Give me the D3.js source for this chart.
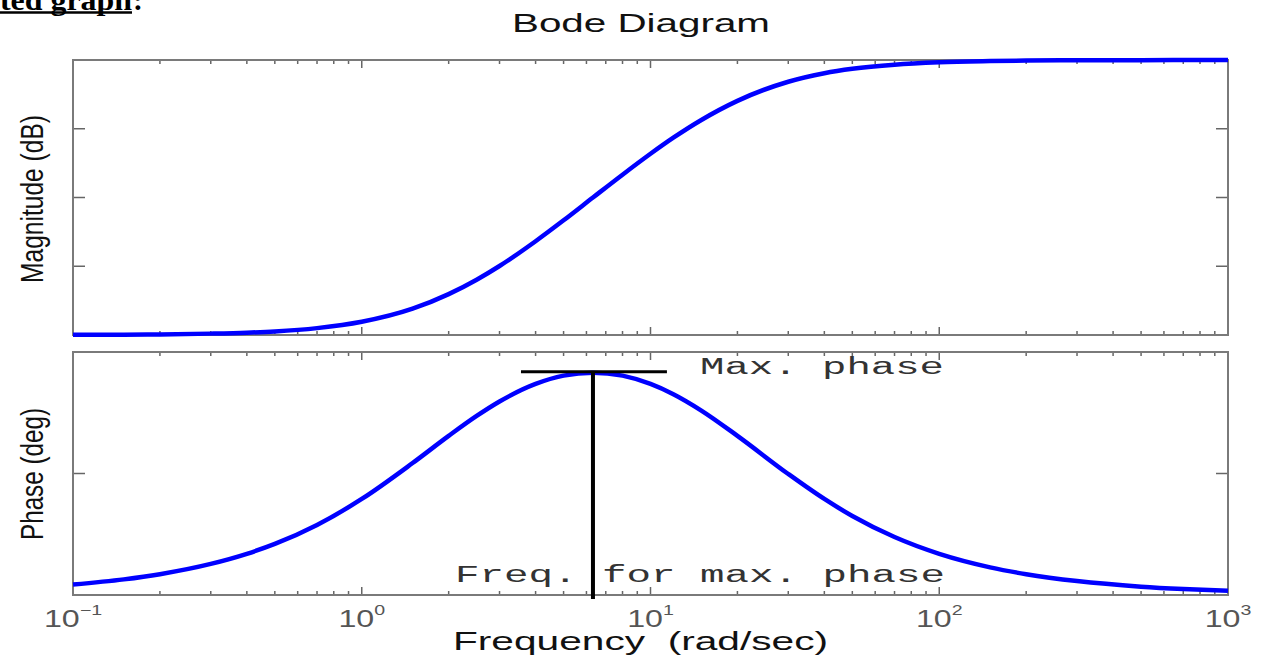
<!DOCTYPE html>
<html>
<head>
<meta charset="utf-8">
<script src="https://cdn.jsdelivr.net/npm/d3@7"></script>
<style>
  html, body { margin: 0; padding: 0; background: #fff; }
  svg { display: block; }
  text { white-space: pre; }
</style>
</head>
<body>
<svg id="chart" width="1270" height="664"></svg>
<script>
// ---- Data ----
const freq = [0.1, 0.15, 0.2, 0.3, 0.4, 0.5, 0.7, 1, 1.5, 2, 2.5, 3, 4, 5, 6.32, 8, 10, 12, 15, 20, 30, 40, 50, 70, 100, 150, 200, 300, 500, 700, 1000];
const magDb = [0.01, 0.02, 0.04, 0.10, 0.17, 0.26, 0.50, 0.96, 1.91, 2.97, 4.02, 5.02, 6.82, 8.34, 10.0, 11.66, 13.18, 14.35, 15.64, 17.03, 18.42, 19.04, 19.36, 19.66, 19.83, 19.92, 19.96, 19.98, 19.99, 20.0, 20.0];
const phaseDeg = [2.58, 3.86, 5.14, 7.67, 10.16, 12.61, 17.29, 23.71, 32.58, 39.29, 44.21, 47.78, 52.12, 54.16, 54.90, 54.16, 52.12, 49.58, 45.54, 39.29, 29.88, 23.71, 19.51, 14.31, 10.16, 6.83, 5.14, 3.43, 2.06, 1.48, 1.04];
const freqDomain = [0.1, 1000];
const magDomain = [0, 20];
const phaseDomain = [0, 60];
const magTicks = [5, 10, 15];
const phaseTicks = [30];
const decadeTicks = [0.1, 1, 10, 100, 1000];
const decadeExponents = ["\u22121", "0", "1", "2", "3"];
const peakFreq = 6.32;
const peakPhase = 54.9;
const peakBarFreq = [3.56, 11.4];
const peakStemBottom = -1;
const titleText = "Bode Diagram";
const xLabelText = "Frequency  (rad/sec)";
const magLabelText = "Magnitude (dB)";
const phaseLabelText = "Phase (deg)";
const maxPhaseText = "Max. phase";
const freqMaxText = "Freq. for max. phase";

// ---- Layout ----
const L = 73, R = 1228;
const top1 = 60, bot1 = 335;
const top2 = 352, bot2 = 595;
const svg = d3.select("#chart");
const sans = "'Liberation Sans', Arial, Helvetica, sans-serif";
const mono = "'Liberation Mono', 'Courier New', monospace";
const axisGray = "#7a7a7a";

const x = d3.scaleLog().domain(freqDomain).range([L, R]);
const yMag = d3.scaleLinear().domain(magDomain).range([bot1, top1]);
const yPh = d3.scaleLinear().domain(phaseDomain).range([bot2, top2]);

// Cropped heading at top-left
svg.append("text").attr("x", 0).attr("y", 10)
  .attr("textLength", 132).attr("lengthAdjust", "spacingAndGlyphs")
  .attr("font-family", "'Liberation Serif', 'Times New Roman', serif")
  .attr("font-weight", "bold").attr("font-size", 30).attr("fill", "#000")
  .text("ted graph");
svg.append("line").attr("x1", 0).attr("x2", 132).attr("y1", 12.5).attr("y2", 12.5)
  .attr("stroke", "#000").attr("stroke-width", 2.5);
svg.append("text").attr("x", 133).attr("y", 10)
  .attr("font-family", "'Liberation Serif', 'Times New Roman', serif")
  .attr("font-weight", "bold").attr("font-size", 30).attr("fill", "#000")
  .text(":");

// Title
svg.append("text").attr("x", 512).attr("y", 32)
  .attr("textLength", 258).attr("lengthAdjust", "spacingAndGlyphs")
  .attr("font-family", sans).attr("font-size", 26).attr("fill", "#111")
  .text(titleText);

const allTicks = x.ticks();
function isDecade(v) { return Math.abs(Math.log10(v) - Math.round(Math.log10(v))) < 1e-6; }

function panel(y, top, bot, yTicks) {
  const g = svg.append("g");
  const tickStroke = "#666";
  allTicks.forEach(v => {
    const len = isDecade(v) ? 8 : 4;
    const xp = x(v);
    g.append("line").attr("x1", xp).attr("x2", xp).attr("y1", top).attr("y2", top + len)
      .attr("stroke", tickStroke).attr("stroke-width", 1.5);
    g.append("line").attr("x1", xp).attr("x2", xp).attr("y1", bot).attr("y2", bot - len)
      .attr("stroke", tickStroke).attr("stroke-width", 1.5);
  });
  yTicks.forEach(v => {
    const yp = y(v);
    g.append("line").attr("x1", L).attr("x2", L + 12).attr("y1", yp).attr("y2", yp)
      .attr("stroke", tickStroke).attr("stroke-width", 1.5);
    g.append("line").attr("x1", R).attr("x2", R - 12).attr("y1", yp).attr("y2", yp)
      .attr("stroke", tickStroke).attr("stroke-width", 1.5);
  });
  g.append("rect").attr("x", L).attr("y", top).attr("width", R - L).attr("height", bot - top)
    .attr("fill", "none").attr("stroke", axisGray).attr("stroke-width", 2);
  return g;
}

panel(yMag, top1, bot1, magTicks);
panel(yPh, top2, bot2, phaseTicks);

const line = (yScale, vals) => d3.line()
  .x((d, i) => x(freq[i]))
  .y((d, i) => yScale(vals[i]))
  .curve(d3.curveMonotoneX)(freq);

svg.append("path").attr("d", line(yMag, magDb))
  .attr("fill", "none").attr("stroke", "#0000ff").attr("stroke-width", 4.5);
svg.append("path").attr("d", line(yPh, phaseDeg))
  .attr("fill", "none").attr("stroke", "#0000ff").attr("stroke-width", 4.5);

// Annotation lines
svg.append("line")
  .attr("x1", x(peakBarFreq[0])).attr("x2", x(peakBarFreq[1]))
  .attr("y1", yPh(peakPhase) - 1).attr("y2", yPh(peakPhase) - 1)
  .attr("stroke", "#000").attr("stroke-width", 3);
svg.append("line")
  .attr("x1", x(peakFreq)).attr("x2", x(peakFreq))
  .attr("y1", yPh(peakPhase) - 1).attr("y2", yPh(peakStemBottom))
  .attr("stroke", "#000").attr("stroke-width", 4);

// Annotation texts
svg.append("text").attr("x", 700).attr("y", 374)
  .attr("textLength", 244).attr("lengthAdjust", "spacingAndGlyphs")
  .attr("font-family", mono).attr("font-size", 23).attr("fill", "#333")
  .text(maxPhaseText);
svg.append("text").attr("x", 455).attr("y", 582)
  .attr("textLength", 490).attr("lengthAdjust", "spacingAndGlyphs")
  .attr("font-family", mono).attr("font-size", 23).attr("fill", "#333")
  .text(freqMaxText);

// X tick labels (horizontally stretched like the reference)
decadeTicks.forEach((v, i) => {
  const t = svg.append("text")
    .attr("transform", `translate(${x(v)},627) scale(1.4,1)`)
    .attr("text-anchor", "middle")
    .attr("font-family", sans).attr("font-size", 23).attr("fill", "#555");
  t.append("tspan").text("10");
  t.append("tspan").attr("dy", -12).attr("font-size", 14).text(decadeExponents[i]);
});

// X label
svg.append("text").attr("x", 453).attr("y", 650)
  .attr("textLength", 375).attr("lengthAdjust", "spacingAndGlyphs")
  .attr("font-family", sans).attr("font-size", 25).attr("fill", "#111")
  .text(xLabelText);

// Y labels
svg.append("text").attr("transform", "translate(43,199) rotate(-90)")
  .attr("text-anchor", "middle")
  .attr("textLength", 168).attr("lengthAdjust", "spacingAndGlyphs")
  .attr("font-family", sans).attr("font-size", 31).attr("fill", "#111")
  .text(magLabelText);
svg.append("text").attr("transform", "translate(43,474) rotate(-90)")
  .attr("text-anchor", "middle")
  .attr("textLength", 132).attr("lengthAdjust", "spacingAndGlyphs")
  .attr("font-family", sans).attr("font-size", 31).attr("fill", "#111")
  .text(phaseLabelText);
</script>
</body>
</html>
